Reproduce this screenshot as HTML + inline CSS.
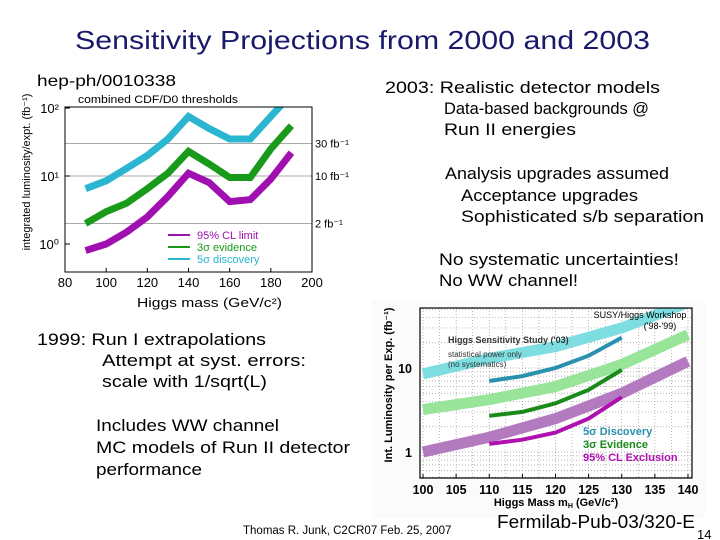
<!DOCTYPE html>
<html><head><meta charset="utf-8"><style>
html,body{margin:0;padding:0;background:#fff}
svg{display:block}
text{font-family:"Liberation Sans","DejaVu Sans",sans-serif}
</style></head><body>
<svg id="s" width="720" height="540" viewBox="0 0 720 540">
<text x="75" y="49" font-size="26" textLength="575" lengthAdjust="spacingAndGlyphs" fill="#1a1a6a">Sensitivity Projections from 2000 and 2003</text>
<g font-size="17" fill="#000">
<text x="385" y="93" textLength="275" lengthAdjust="spacingAndGlyphs">2003: Realistic detector models</text>
<text x="444" y="114" textLength="205" lengthAdjust="spacingAndGlyphs">Data-based backgrounds @</text>
<text x="444" y="135" textLength="132" lengthAdjust="spacingAndGlyphs">Run II energies</text>
<text x="445" y="179" textLength="224" lengthAdjust="spacingAndGlyphs">Analysis upgrades assumed</text>
<text x="461" y="201" textLength="177" lengthAdjust="spacingAndGlyphs">Acceptance upgrades</text>
<text x="461" y="222" textLength="243" lengthAdjust="spacingAndGlyphs">Sophisticated s/b separation</text>
<text x="439" y="265" textLength="240" lengthAdjust="spacingAndGlyphs">No systematic uncertainties!</text>
<text x="439" y="286" textLength="139" lengthAdjust="spacingAndGlyphs">No WW channel!</text>
</g>
<g font-size="17" fill="#000">
<text x="37" y="345" textLength="229" lengthAdjust="spacingAndGlyphs">1999: Run I extrapolations</text>
<text x="102" y="366" textLength="204" lengthAdjust="spacingAndGlyphs">Attempt at syst. errors:</text>
<text x="102" y="387" textLength="165" lengthAdjust="spacingAndGlyphs">scale with 1/sqrt(L)</text>
<text x="96" y="431" textLength="183" lengthAdjust="spacingAndGlyphs">Includes WW channel</text>
<text x="96" y="453" textLength="254" lengthAdjust="spacingAndGlyphs">MC models of Run II detector</text>
<text x="96" y="475" textLength="106" lengthAdjust="spacingAndGlyphs">performance</text>
</g>
<text x="243" y="534" font-size="11.5">Thomas R. Junk, C2CR07 Feb. 25, 2007</text>

<!-- chart 1 -->
<text x="37" y="86" font-size="16" textLength="139" lengthAdjust="spacingAndGlyphs">hep-ph/0010338</text>
<text x="78" y="103" font-size="11" textLength="160" lengthAdjust="spacingAndGlyphs">combined CDF/D0 thresholds</text>
<text transform="translate(30,172) rotate(-90)" font-size="11" text-anchor="middle">integrated luminosity/expt. (fb⁻¹)</text>
<text x="137" y="307" font-size="13" textLength="145" lengthAdjust="spacingAndGlyphs">Higgs mass (GeV/c²)</text>
<g id="c1"></g>
<text x="197" y="239" font-size="11" fill="#a010b0">95% CL limit</text>
<text x="197" y="251" font-size="11" fill="#1a9a1a">3σ evidence</text>
<text x="197" y="263" font-size="11" fill="#2ab5d0">5σ discovery</text>
<line x1="168" y1="235" x2="190" y2="235" stroke="#a010b0" stroke-width="2"/>
<line x1="168" y1="247" x2="190" y2="247" stroke="#1a9a1a" stroke-width="2"/>
<line x1="168" y1="259" x2="190" y2="259" stroke="#2ab5d0" stroke-width="2"/>

<!-- chart 2 -->
<rect x="372" y="300" width="333" height="218" fill="#fbfbfb"/>
<rect x="420" y="308" width="272" height="170" fill="#fff"/>
<text transform="translate(392,385) rotate(-90)" font-size="11" font-weight="bold" text-anchor="middle">Int. Luminosity per Exp. (fb⁻¹)</text>
<text x="556" y="506" font-size="11" font-weight="bold" text-anchor="middle">Higgs Mass m<tspan font-size="7" dy="2">H</tspan><tspan dy="-2"> (GeV/c²)</tspan></text>
<g id="c2"></g>
<text x="640" y="318" font-size="9" text-anchor="middle">SUSY/Higgs Workshop</text>
<text x="660" y="329" font-size="9" text-anchor="middle">('98-'99)</text>
<text x="448" y="343" font-size="9" font-weight="bold" fill="#333">Higgs Sensitivity Study ('03)</text>
<text x="448" y="357" font-size="8" fill="#333">statistical power only</text>
<text x="448" y="367" font-size="8" fill="#333">(no systematics)</text>
<text x="583" y="435" font-size="11" font-weight="bold" fill="#2a90b0">5σ Discovery</text>
<text x="583" y="448" font-size="11" font-weight="bold" fill="#1a8a1a">3σ Evidence</text>
<text x="583" y="461" font-size="11" font-weight="bold" fill="#b010b0">95% CL Exclusion</text>
<text x="497" y="528" font-size="18" textLength="198" lengthAdjust="spacingAndGlyphs">Fermilab-Pub-03/320-E</text>
<text x="697" y="539" font-size="13">14</text>
<script>
// Chart 1 data
const c1Mass=[90,100,110,120,130,140,150,160,170,180,190];
const c1Disc=[6.5,8.5,13,20,35,75,50,35,35,75,160];
const c1Evid=[2,3,4,6.5,11,23,15,9.5,9.5,25,55];
const c1Limit=[0.8,1.0,1.5,2.5,5,11,8,4.2,4.5,9,22];
const c1XTicks=[80,100,120,140,160,180,200];
const c1YTicks=[1,10,100];
const c1YLabels=["10⁰","10¹","10²"];
const c1Thresh=[30,10,2];
const c1ThreshLabels=["30 fb⁻¹","10 fb⁻¹","2 fb⁻¹"];
// Chart 2 data
const c2Mass=[100,110,120,130,140];
const c2BandDisc=[8.5,13,18,30,60];
const c2BandEvid=[3.2,4.2,6,11,25];
const c2BandExcl=[1.0,1.5,2.5,5,12];
const c2Mass03=[110,115,120,125,130];
const c2Disc03=[7,8,10,14,23];
const c2Evid03=[2.7,3.0,3.8,5.5,9.5];
const c2Excl03=[1.25,1.4,1.7,2.5,4.5];
const c2XTicks=[100,105,110,115,120,125,130,135,140];
const c2YTicks=[1,10];

const NS="http://www.w3.org/2000/svg";
function mk(p,tag,at){const e=document.createElementNS(NS,tag);for(const k in at)e.setAttribute(k,at[k]);p.appendChild(e);return e;}
const L1=65,R1=312,T1=107,B1=272;
const x1=v=>L1+(v-80)/120*(R1-L1);
const y1=v=>244-Math.log10(v)*68;
const g1=document.getElementById('c1');
let e=mk(g1,'defs',{});
const cp=mk(e,'clipPath',{id:'cp1'});mk(cp,'rect',{x:L1,y:T1,width:R1-L1,height:B1-T1});
c1Thresh.forEach((t,i)=>{
 e=mk(g1,'line',{x1:L1,x2:R1,y1:y1(t),y2:y1(t),stroke:'#aaa','stroke-width':1});
 
 
 e=mk(g1,'text',{x:R1+3,y:y1(t)+4,'font-size':11});e.textContent=c1ThreshLabels[i];
 
 
});
function line(g,xs,ys,xf,yf,col,w,clip,name){
 const d=xs.map((x,i)=>(i?'L':'M')+xf(x).toFixed(1)+','+yf(ys[i]).toFixed(1)).join('');
 const p=mk(g,'path',{d:d,fill:'none',stroke:col,'stroke-width':w,'stroke-linejoin':'miter'});
 if(clip)p.setAttribute('clip-path','url(#'+clip+')');
 
 
}
line(g1,c1Mass,c1Disc,x1,y1,'#2ab5d0',7,'cp1','series-5sigma-discovery');
line(g1,c1Mass,c1Evid,x1,y1,'#1a9a1a',7,'cp1','series-3sigma-evidence');
line(g1,c1Mass,c1Limit,x1,y1,'#a010b0',7,'cp1','series-95cl-limit');
e=mk(g1,'rect',{x:L1,y:T1,width:R1-L1,height:B1-T1,fill:'none',stroke:'#000','stroke-width':1});


c1XTicks.forEach(t=>{
 mk(g1,'line',{x1:x1(t),x2:x1(t),y1:B1,y2:B1-4,stroke:'#000'});
 e=mk(g1,'text',{x:x1(t),y:287,'font-size':13,'text-anchor':'middle'});e.textContent=t;
 
 
});
c1YTicks.forEach((t,i)=>{
 mk(g1,'line',{x1:L1,x2:L1+5,y1:y1(t),y2:y1(t),stroke:'#000'});
 e=mk(g1,'text',{x:L1-6,y:y1(t)+5,'font-size':13,'text-anchor':'end'});e.textContent=c1YLabels[i];
 
 
});
const L2=420,R2=692,T2=308,B2=478;
const x2=v=>423+(v-100)/40*(688-423);
const y2=v=>452-Math.log10(v)*84;
const g2=document.getElementById('c2');
e=mk(g2,'defs',{});
const cp2=mk(e,'clipPath',{id:'cp2'});mk(cp2,'rect',{x:L2,y:T2,width:R2-L2,height:B2-T2});
for(let v=100;v<=140;v+=2.5){mk(g2,'line',{x1:x2(v),x2:x2(v),y1:T2,y2:B2,stroke:'#999','stroke-dasharray':'1,2','stroke-width':0.7});}
[0.5,0.6,0.7,0.8,0.9,1,2,3,4,5,6,7,8,9,10,20,30,40,50].forEach(v=>{if(y2(v)>=T2&&y2(v)<=B2)mk(g2,'line',{x1:L2,x2:R2,y1:y2(v),y2:y2(v),stroke:'#999','stroke-dasharray':'1,2','stroke-width':0.7});});
line(g2,c2Mass,c2BandDisc,x2,y2,'#7ddde0',11,'cp2','band-5sigma-1999');
line(g2,c2Mass,c2BandEvid,x2,y2,'#98e498',11,'cp2','band-3sigma-1999');
line(g2,c2Mass,c2BandExcl,x2,y2,'#b47ac0',11,'cp2','band-95cl-1999');
line(g2,c2Mass03,c2Disc03,x2,y2,'#2a90b0',4,'cp2','series-5sigma-2003');
line(g2,c2Mass03,c2Evid03,x2,y2,'#1a8a1a',4,'cp2','series-3sigma-2003');
line(g2,c2Mass03,c2Excl03,x2,y2,'#b010b0',4,'cp2','series-95cl-2003');
e=mk(g2,'rect',{x:L2,y:T2,width:R2-L2,height:B2-T2,fill:'none',stroke:'#000','stroke-width':1.2});


c2XTicks.forEach(t=>{
 mk(g2,'line',{x1:x2(t),x2:x2(t),y1:B2,y2:B2-4,stroke:'#000'});
 e=mk(g2,'text',{x:x2(t),y:494,'font-size':12.5,'font-weight':'bold','text-anchor':'middle'});e.textContent=t;
 
 
});
c2YTicks.forEach(t=>{
 e=mk(g2,'text',{x:L2-8,y:y2(t)+5,'font-size':12.5,'font-weight':'bold','text-anchor':'end'});e.textContent=t;
 
 
});
</script>
</svg>
</body></html>
